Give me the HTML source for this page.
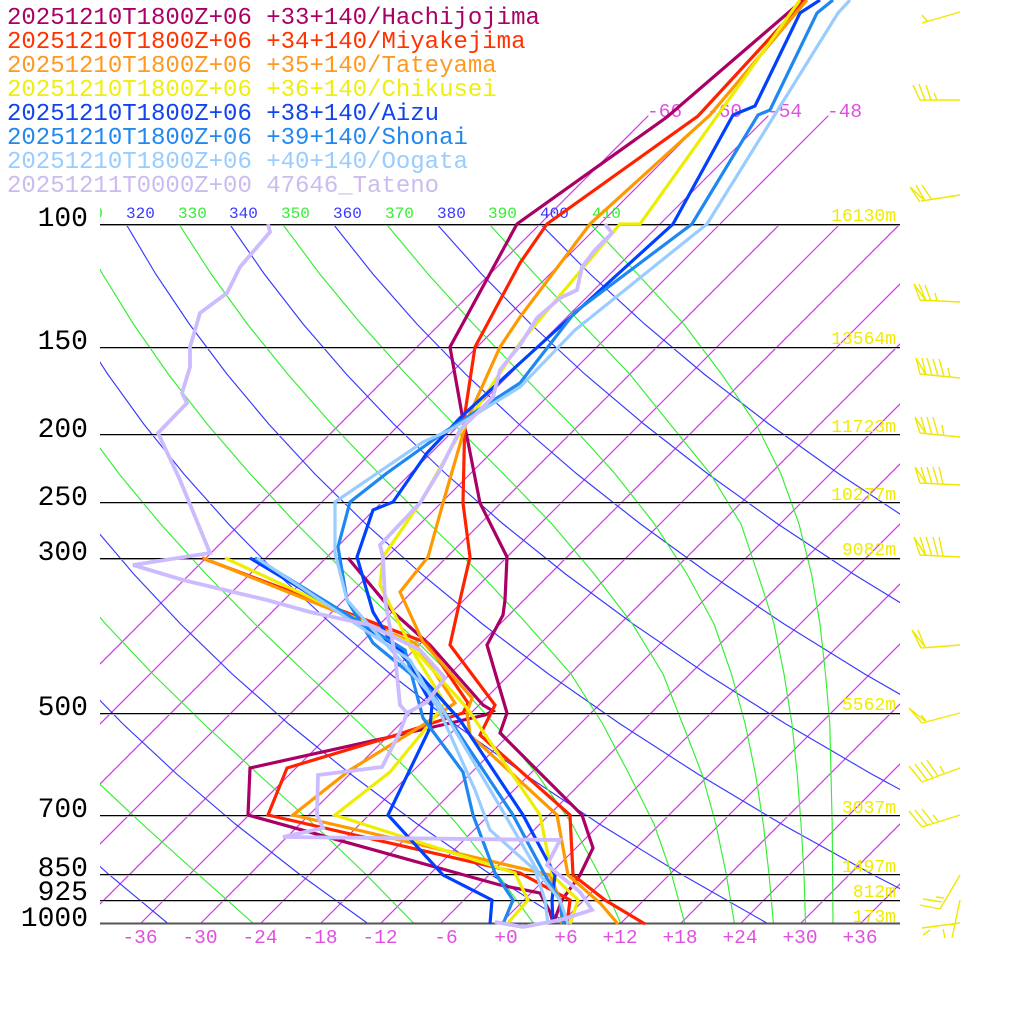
<!DOCTYPE html>
<html>
<head>
<meta charset="utf-8">
<style>
html,body{margin:0;padding:0;background:#fff;}
svg{display:block;}
text{font-family:"Liberation Mono","DejaVu Sans Mono",monospace;}
</style>
</head>
<body>
<svg xmlns="http://www.w3.org/2000/svg" width="1024" height="1024" viewBox="0 0 1024 1024">
<defs>
<clipPath id="c"><rect x="100" y="224" width="800" height="700"/></clipPath>
<clipPath id="cx"><rect x="100" y="0" width="800" height="1024"/></clipPath>
</defs>
<rect width="1024" height="1024" fill="#fff"/>

<g clip-path="url(#c)" fill="none" stroke-width="1.15">
<!-- isotherms -->
<path stroke="#d633ee" d="M-160,924L540,224M-100,924L600,224M-40,924L660,224M20,924L720,224M80,924L780,224M140,924L840,224M200,924L900,224M260,924L960,224M320,924L1020,224M380,924L1080,224M440,924L1140,224M500,924L1200,224M560,924L1260,224M620,924L1320,224M680,924L1380,224M740,924L1440,224M800,924L1500,224M860,924L1560,224"/>
<!-- dry adiabats -->
<path stroke="#3838ff" d="
M168.5,924 L108.3,874 L53.2,824
M368.5,924 L299.2,874 L235.3,824 L176.7,774 L123,724 L74.1,674
M568.5,924 L490,874 L417.3,824 L350.4,774 L288.7,724 L232.2,674 L180.6,624 L133.7,574 L91.2,524
M768.5,924 L680.8,874 L599.4,824 L524.1,774 L454.5,724 L390.4,674 L331.5,624 L277.6,574 L228.5,524 L183.9,474 L143.7,424 L107.6,374 L75.5,324
M968.5,924 L871.6,874 L781.5,824 L697.8,774 L620.2,724 L548.5,674 L482.4,624 L421.5,574 L365.8,524 L314.9,474 L268.7,424 L226.9,374 L189.3,324 L155.7,274 L126,224
M1062.4,874 L963.5,824 L871.5,774 L785.9,724 L706.6,674 L633.2,624 L565.5,574 L503.2,524 L446,474 L393.7,424 L346.2,374 L303.1,324 L264.3,274 L229.6,224
M1145.6,824 L1045.2,774 L951.7,724 L864.7,674 L784.1,624 L709.4,574 L640.5,524 L577,474 L518.8,424 L465.5,374 L416.9,324 L372.9,274 L333.2,224
M1022.9,674 L935,624 L853.4,574 L777.8,524 L708,474 L643.8,424 L584.7,374 L530.7,324 L481.5,274 L436.8,224
M1085.8,624 L997.3,574 L915.2,524 L839.1,474 L768.8,424 L704,374 L644.5,324 L590.1,274 L540.4,224"/>
<!-- theta-e lines -->
<path stroke="#33ee33" d="
M254,924 L197.8,874 L142.2,824 L89,774
M414.5,924 L365.5,874 L313.2,824 L258.1,774 L204,724 L152.8,674 L105.7,624 L62.3,574
M534,924 L497.3,874 L457,824 L412.1,774 L360.2,724 L306.8,674 L254.9,624 L206,574 L160.6,524 L119.2,474 L82,424
M621,924 L599,874 L572,824 L537,774 L494.5,724 L449.7,674 L398.9,624 L346.8,574 L296.7,524 L250.3,474 L207.1,424 L168.2,374 L133.4,324 L102.5,274 L75.2,224
M685,924 L671.5,874 L654,824 L629,774 L602.7,724 L571,674 L527,624 L480.5,574 L429.6,524 L379.2,474 L331.5,424 L287.6,374 L247.3,324 L211.1,274 L178.9,224
M734.5,924 L726.2,874 L715.8,824 L702,774 L682.6,724 L663,674 L632.5,624 L594.2,574 L551.9,524 L503.6,474 L453.8,424 L405.9,374 L361.1,324 L319.8,274 L282.5,224
M773.5,924 L769,874 L763.3,824 L755.5,774 L745.2,724 L731.5,674 L714,624 L687,574 L654.5,524 L615.2,474 L570.1,424 L521.1,374 L473.3,324 L428,274 L386.2,224
M805.5,924 L804,874 L801,824 L797.2,774 L792,724 L784,674 L774,624 L757.8,574 L741,524 L710.5,474 L670,424 L629.7,374 L581.9,324 L534.6,274 L489.1,224
M833,924 L832.6,874 L832.2,824 L831,774 L829.8,724 L825.5,674 L820,624 L811.5,574 L799,524 L781,474 L756,424 L721.5,374 L683.7,324 L637.5,274 L590.5,224"/>
</g>
<!-- isotherm extensions above 100 hPa -->
<path fill="none" stroke="#d633ee" stroke-width="1.15" d="M540,224L648.4,115.6M600,224L708.4,115.6M660,224L768.4,115.6M720,224L828.4,115.6"/>

<!-- pressure lines -->
<g fill="none">
<line x1="100" y1="224.5" x2="900" y2="224.5" stroke="#000" stroke-width="1"/>
<line x1="100" y1="225.5" x2="900" y2="225.5" stroke="#999" stroke-width="1"/>
<line x1="100" y1="347.5" x2="900" y2="347.5" stroke="#000" stroke-width="1"/>
<line x1="100" y1="348.5" x2="900" y2="348.5" stroke="#bbb" stroke-width="1"/>
<line x1="100" y1="434.5" x2="900" y2="434.5" stroke="#000" stroke-width="1"/>
<line x1="100" y1="435.5" x2="900" y2="435.5" stroke="#bbb" stroke-width="1"/>
<line x1="100" y1="502.5" x2="900" y2="502.5" stroke="#000" stroke-width="1"/>
<line x1="100" y1="503.5" x2="900" y2="503.5" stroke="#bbb" stroke-width="1"/>
<line x1="100" y1="558.5" x2="900" y2="558.5" stroke="#000" stroke-width="1"/>
<line x1="100" y1="559.5" x2="900" y2="559.5" stroke="#999" stroke-width="1"/>
<line x1="100" y1="713.5" x2="900" y2="713.5" stroke="#000" stroke-width="1"/>
<line x1="100" y1="714.5" x2="900" y2="714.5" stroke="#bbb" stroke-width="1"/>
<line x1="100" y1="815.5" x2="900" y2="815.5" stroke="#000" stroke-width="1"/>
<line x1="100" y1="816.5" x2="900" y2="816.5" stroke="#bbb" stroke-width="1"/>
<line x1="100" y1="874.5" x2="900" y2="874.5" stroke="#000" stroke-width="1"/>
<line x1="100" y1="875.5" x2="900" y2="875.5" stroke="#bbb" stroke-width="1"/>
<line x1="100" y1="900.5" x2="900" y2="900.5" stroke="#000" stroke-width="1"/>
<line x1="100" y1="901.5" x2="900" y2="901.5" stroke="#bbb" stroke-width="1"/>
<line x1="100" y1="923.5" x2="900" y2="923.5" stroke="#555" stroke-width="2"/>
</g>

<!-- pressure labels -->
<g font-size="28" fill="#000" text-anchor="end">
<text x="88" y="226">100</text>
<text x="88" y="349">150</text>
<text x="88" y="437">200</text>
<text x="88" y="505">250</text>
<text x="88" y="560">300</text>
<text x="88" y="715">500</text>
<text x="88" y="817">700</text>
<text x="88" y="876">850</text>
<text x="88" y="900">925</text>
<text x="88" y="926">1000</text>
</g>

<!-- height labels -->
<g font-size="18" fill="#f0ec00" text-anchor="end">
<text x="896" y="221">16130m</text>
<text x="896" y="344">13564m</text>
<text x="896" y="432">11723m</text>
<text x="896" y="500">10277m</text>
<text x="896" y="555">9082m</text>
<text x="896" y="710">5562m</text>
<text x="896" y="813">3037m</text>
<text x="896" y="872">1497m</text>
<text x="896" y="897">812m</text>
<text x="896" y="922">173m</text>
</g>

<!-- theta labels -->
<g font-size="16" clip-path="url(#cx)">
<text x="74" y="218" fill="#33ee33">310</text>
<text x="126" y="218" fill="#3838ff">320</text>
<text x="178" y="218" fill="#33ee33">330</text>
<text x="229" y="218" fill="#3838ff">340</text>
<text x="281" y="218" fill="#33ee33">350</text>
<text x="333" y="218" fill="#3838ff">360</text>
<text x="385" y="218" fill="#33ee33">370</text>
<text x="437" y="218" fill="#3838ff">380</text>
<text x="488" y="218" fill="#33ee33">390</text>
<text x="540" y="218" fill="#3838ff">400</text>
<text x="592" y="218" fill="#33ee33">410</text>
</g>

<!-- isotherm labels top -->
<g font-size="19.5" fill="#e050e0">
<text x="647" y="117">-66</text>
<text x="707" y="117">-60</text>
<text x="767" y="117">-54</text>
<text x="827" y="117">-48</text>
</g>

<!-- bottom tick labels -->
<g font-size="19.5" fill="#e050e0" text-anchor="middle">
<text x="140" y="943">-36</text>
<text x="200" y="943">-30</text>
<text x="260" y="943">-24</text>
<text x="320" y="943">-18</text>
<text x="380" y="943">-12</text>
<text x="446" y="943">-6</text>
<text x="506" y="943">+0</text>
<text x="566" y="943">+6</text>
<text x="620" y="943">+12</text>
<text x="680" y="943">+18</text>
<text x="740" y="943">+24</text>
<text x="800" y="943">+30</text>
<text x="860" y="943">+36</text>
</g>

<!-- series -->
<g fill="none" stroke-width="3.2" stroke-linejoin="miter" stroke-miterlimit="3">
<polyline stroke="#aa0066" points="803,0 667,117 517,224 450,347 463,420 467,437 480,503 507,557 505,600 503,615 487,645 507,713 500,733 582,815 593,848 580,875 562,900 553,924"/>
<polyline stroke="#aa0066" points="348,558 393,612 430,645 483,705 493,711 485,715 390,737 250,768 248,815 500,885 540,893 550,912 553,923"/>
<polyline stroke="#ff2200" points="805,0 698,116 547,224 520,263 475,347 465,413 463,503 470,557 460,600 450,645 495,705 480,735 570,815 573,875 605,900 645,924"/>
<polyline stroke="#ff2200" points="202,558 427,643 468,703 463,713 390,737 287,768 268,815 520,873 570,900 567,924"/>
<polyline stroke="#ff9900" points="807,0 710,115 590,224 520,317 500,347 467,420 443,503 428,557 400,592 423,642 472,698 467,712 470,735 557,815 568,875 600,903 618,924"/>
<polyline stroke="#ff9900" points="203,558 415,643 455,703 423,725 350,770 293,815 550,875 560,900 562,924"/>
<polyline stroke="#eeee00" points="800,0 640,224 620,224 520,343 460,433 420,503 383,557 380,585 410,645 467,708 540,815 552,875 578,900 570,924"/>
<polyline stroke="#eeee00" points="225,558 407,642 445,703 427,727 390,772 335,815 515,873 528,900 507,924"/>
<polyline stroke="#0040ff" points="820,0 800,13 755,106 733,115 673,224 520,363 460,418 427,453 393,502 373,510 357,557 373,612 393,645 460,720 523,815 555,875 552,900 553,924"/>
<polyline stroke="#0040ff" points="250,558 400,648 432,705 430,728 388,815 443,875 492,900 490,924"/>
<polyline stroke="#1e88f0" points="833,0 817,13 770,110 758,115 692,224 575,312 520,383 443,433 387,473 350,502 338,547 347,600 373,643 430,690 513,815 545,875 560,900 563,924"/>
<polyline stroke="#1e88f0" points="255,558 405,650 423,718 463,772 473,815 495,873 513,900 503,924"/>
<polyline stroke="#99ccff" points="850,0 838,13 707,224 575,330 520,387 450,430 423,442 335,502 335,553 347,600 400,660 440,705 505,815 540,875 560,900 568,924"/>
<polyline stroke="#99ccff" points="257,558 410,660 440,712 475,790 490,830 535,870 545,900 548,924"/>
<polyline stroke="#ccbbff" stroke-width="3.8" points="605,224 612,233 595,250 582,267 577,290 560,298 537,318 520,345 500,370 493,397 460,430 440,470 420,503 380,545 383,557 385,600 395,655 400,705 407,713 400,732 382,767 318,775 317,815 323,828 283,837 560,840 547,865 580,892 592,910 560,920 523,927 495,922"/>
<polyline stroke="#ccbbff" stroke-width="3.8" points="268,224 270,232 240,267 227,293 200,313 190,347 190,367 182,393 187,403 158,433 180,480 210,553 133,565 183,580 267,600 310,612 370,625 420,650 445,678 427,702 407,713"/>
</g>

<!-- wind barbs -->
<path fill="none" stroke="#f0e800" stroke-width="1.4" d="
M960,12 L922,23 M922,15 L928,22
M920,100 L960,100 M913,85 L920,100 M919,84 L925,100 M926,85 L931,100 M934,93 L937,100
M960,195 L921,201 M910,187 L920,202 M910,187 L925,201 M916,185 L925,201 M922,185 L932,200
M920,300 L960,302 M914,284 L920,300 M914,284 L926,301 M919,284 L926,301 M925,285 L931,301 M935,293 L937,301
M920,374 L960,378 M916,358 L920,374 M916,358 L926,375 M922,358 L926,375 M927,358 L932,375 M933,359 L938,376 M939,359 L944,376 M948,368 L950,377
M920,433 L960,437 M915,417 L920,433 M915,417 L926,434 M921,417 L926,434 M927,417 L932,435 M933,417 L938,435 M942,425 L944,436
M920,483 L960,485 M915,467 L920,483 M915,467 L926,483 M921,467 L926,483 M927,467 L932,484 M933,467 L938,484 M939,467 L943,484
M920,555 L960,557 M914,537 L920,555 M914,537 L926,556 M920,537 L926,556 M926,537 L932,556 M933,537 L938,556 M939,537 L943,556
M921,648 L960,645 M912,630 L921,648 M912,630 L925,647 M918,630 L925,647
M922,723 L960,713 M909,708 L922,723 M909,708 L925,721 M921,715 L926,721
M922,782 L960,768 M909,766 L922,782 M915,764 L927,780 M921,762 L933,778 M927,760 L938,776 M940,766 L944,773
M922,827 L960,815 M909,811 L922,827 M915,810 L927,825 M922,809 L933,823 M933,815 L938,821
M960,875 L940,909 M920,905 L940,909 M923,899 L942,902 M936,897 L944,898
M960,900 L952,938 M922,928 L960,923 M923,935 L930,930 M943,929 L945,938
"/>

<!-- legend -->
<g font-size="24">
<text x="7" y="24" fill="#aa0066">20251210T1800Z+06 +33+140/Hachijojima</text>
<text x="7" y="48" fill="#ff3300">20251210T1800Z+06 +34+140/Miyakejima</text>
<text x="7" y="72" fill="#ff9922">20251210T1800Z+06 +35+140/Tateyama</text>
<text x="7" y="96" fill="#eeee11">20251210T1800Z+06 +36+140/Chikusei</text>
<text x="7" y="120" fill="#1144ee">20251210T1800Z+06 +38+140/Aizu</text>
<text x="7" y="144" fill="#2288ee">20251210T1800Z+06 +39+140/Shonai</text>
<text x="7" y="168" fill="#99ccff">20251210T1800Z+06 +40+140/Oogata</text>
<text x="7" y="192" fill="#ccbbf0">20251211T0000Z+00 47646_Tateno</text>
</g>
</svg>
</body>
</html>
